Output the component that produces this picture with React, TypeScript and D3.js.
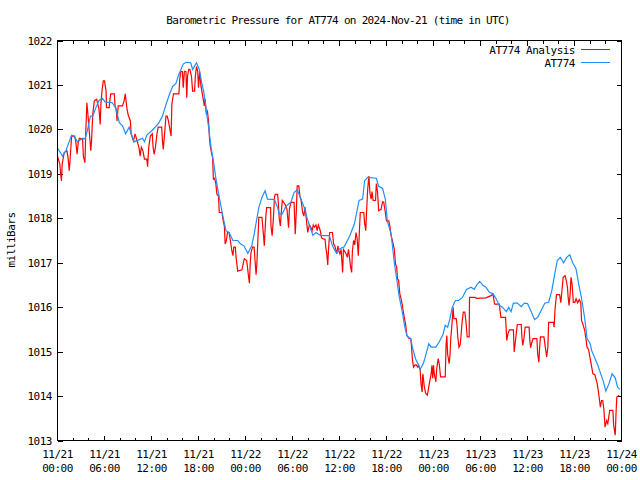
import * as d3 from 'd3';

// hours since 2024-11-21 00:00 UTC, pressure in mb
const analysis: [number, number][] = [
  [0, 1019.4], [0.3, 1019.22], [0.4, 1018.99], [0.5, 1018.84], [0.6, 1019.22], [0.85, 1019.48],
  [1.2, 1019.52], [1.35, 1019.36], [1.5, 1019.07], [1.6, 1019.3], [1.8, 1019.85], [2.2, 1019.85],
  [2.35, 1019.7], [2.5, 1019.44], [2.65, 1019.7], [2.8, 1019.8], [3.2, 1019.78], [3.3, 1019.4],
  [3.5, 1019.25], [3.6, 1019.89], [3.75, 1020.6], [3.9, 1020.3], [4.05, 1019.96], [4.25, 1019.52],
  [4.35, 1019.75], [4.5, 1020.34], [4.7, 1020.64], [5.0, 1020.68], [5.3, 1020.45], [5.45, 1020.11],
  [5.55, 1020.6], [5.7, 1020.9], [5.85, 1021.09], [6.0, 1021.09], [6.2, 1020.86], [6.25, 1020.49],
  [6.6, 1020.49], [6.7, 1020.68], [6.8, 1020.8], [7.25, 1020.8], [7.35, 1020.52], [7.5, 1020.45],
  [7.6, 1020.19], [7.75, 1020.53], [8.3, 1020.53], [8.5, 1020.64], [8.65, 1020.8], [8.85, 1020.49],
  [9.0, 1020.34], [9.3, 1020.19], [9.4, 1019.9], [9.7, 1019.74], [9.9, 1019.9], [10.1, 1019.78],
  [10.4, 1019.59], [10.55, 1019.4], [10.7, 1019.6], [10.9, 1019.52], [11.1, 1019.33], [11.4, 1019.33],
  [11.5, 1019.16], [11.65, 1019.6], [11.85, 1019.85], [12.1, 1019.9], [12.2, 1019.6], [12.35, 1019.44],
  [12.5, 1019.6], [12.7, 1019.9], [12.85, 1020.05], [13.3, 1020.05], [13.4, 1019.74], [13.5, 1019.55],
  [13.7, 1019.96], [13.85, 1020.3], [14.0, 1020.3], [14.15, 1020.2], [14.35, 1020.0], [14.5, 1019.85],
  [14.6, 1020.56], [14.8, 1020.8], [15.5, 1020.8], [15.6, 1021.12], [15.75, 1021.31], [15.95, 1021.3],
  [16.05, 1020.94], [16.2, 1021.31], [16.4, 1021.3], [16.5, 1020.71], [16.6, 1021.2], [16.75, 1021.35],
  [16.9, 1021.35], [17.1, 1021.2], [17.25, 1020.86], [17.5, 1020.86], [17.6, 1021.2], [17.75, 1021.42],
  [17.9, 1021.3], [18.0, 1020.94], [18.15, 1021.3], [18.3, 1021.0], [18.5, 1020.79], [18.6, 1020.68],
  [18.75, 1020.53], [18.85, 1020.68], [19.0, 1020.34], [19.15, 1020.4], [19.3, 1020.15], [19.4, 1019.81],
  [19.5, 1019.63], [19.7, 1019.44], [19.8, 1019.37], [19.9, 1018.88], [20.05, 1018.9], [20.2, 1018.8],
  [20.35, 1018.54], [20.55, 1018.5], [20.65, 1018.13], [21.0, 1018.13], [21.15, 1017.94], [21.3, 1017.83],
  [21.4, 1017.42], [21.55, 1017.5], [21.7, 1017.68], [21.9, 1017.68], [22.1, 1017.46], [22.25, 1017.27],
  [22.4, 1017.16], [22.5, 1017.35], [22.7, 1017.35], [22.8, 1017.12], [22.9, 1016.97], [23.0, 1016.81],
  [23.55, 1016.84], [23.7, 1016.97], [23.85, 1017.09], [24.15, 1017.05], [24.25, 1016.9], [24.4, 1016.67],
  [24.5, 1016.54], [24.6, 1016.97], [24.7, 1017.23], [24.9, 1017.35], [25.1, 1017.35], [25.2, 1017.09],
  [25.35, 1016.73], [25.45, 1016.97], [25.55, 1017.38], [25.7, 1018.02], [26.1, 1018.02], [26.3, 1017.61],
  [26.4, 1017.38], [26.6, 1018.06], [26.7, 1018.24], [27.2, 1018.24], [27.25, 1017.83], [27.4, 1017.61],
  [27.55, 1017.97], [27.7, 1018.47], [27.8, 1018.54], [28.1, 1018.54], [28.2, 1018.32], [28.3, 1018.0],
  [28.45, 1017.83], [28.6, 1018.2], [28.7, 1018.4], [29.1, 1018.3], [29.3, 1018.2], [29.5, 1017.79],
  [29.6, 1018.2], [29.8, 1018.36], [30.2, 1018.36], [30.35, 1017.64], [30.5, 1018.2], [30.6, 1018.73],
  [30.8, 1018.73], [30.95, 1018.5], [31.1, 1018.4], [31.3, 1018.13], [31.45, 1018.05], [31.6, 1018.25],
  [31.7, 1018.1], [31.85, 1017.83], [31.95, 1017.68], [32.15, 1017.85], [32.35, 1017.79], [32.5, 1017.72],
  [32.65, 1017.85], [32.8, 1017.8], [33.0, 1017.85], [33.15, 1017.72], [33.3, 1017.85], [33.55, 1017.72],
  [33.7, 1017.56], [34.0, 1017.53], [34.15, 1017.53], [34.25, 1017.35], [34.4, 1017.16], [34.5, 1016.95],
  [34.6, 1017.3], [34.75, 1017.68], [35.1, 1017.68], [35.25, 1017.42], [35.4, 1017.38], [35.55, 1017.27],
  [35.65, 1017.2], [35.8, 1017.38], [35.9, 1017.27], [36.05, 1017.2], [36.2, 1017.3], [36.4, 1016.78],
  [36.5, 1017.3], [36.8, 1017.22], [37.0, 1017.12], [37.15, 1017.3], [37.4, 1016.93], [37.55, 1016.78],
  [37.65, 1017.27], [37.8, 1017.5], [37.95, 1017.4], [38.1, 1017.68], [38.25, 1017.55], [38.4, 1017.16],
  [38.5, 1017.55], [38.65, 1018.13], [39.1, 1018.13], [39.2, 1017.9], [39.35, 1017.72], [39.45, 1018.13],
  [39.6, 1018.66], [39.75, 1018.95], [39.9, 1018.54], [40.05, 1018.43], [40.15, 1018.6], [40.3, 1018.4],
  [40.6, 1018.4], [40.7, 1018.78], [40.85, 1018.6], [41.0, 1018.17], [41.3, 1018.2], [41.5, 1018.37],
  [41.65, 1018.36], [41.85, 1018.13], [42.0, 1017.94], [42.3, 1017.94], [42.45, 1017.8], [42.6, 1017.6],
  [42.75, 1017.5], [42.9, 1017.38], [43.0, 1017.3], [43.15, 1016.97], [43.3, 1016.9], [43.4, 1016.64],
  [43.55, 1016.6], [43.7, 1016.3], [43.85, 1016.2], [44.0, 1016.07], [44.15, 1015.89], [44.3, 1015.74],
  [44.45, 1015.6], [44.6, 1015.36], [44.85, 1015.3], [45.1, 1015.29], [45.2, 1015.1], [45.3, 1014.84],
  [45.45, 1014.65], [45.65, 1014.7], [45.8, 1014.7], [46.0, 1014.65], [46.1, 1014.7], [46.3, 1014.58],
  [46.4, 1014.28], [46.55, 1014.09], [46.6, 1014.4], [46.65, 1014.5], [46.8, 1014.24], [47.0, 1014.06],
  [47.2, 1014.02], [47.3, 1014.1], [47.5, 1014.32], [47.7, 1014.5], [47.8, 1014.69], [47.9, 1014.4],
  [48.0, 1014.69], [48.1, 1014.5], [48.3, 1014.32], [48.4, 1014.6], [48.6, 1014.84], [48.75, 1014.7],
  [48.9, 1014.43], [49.5, 1014.43], [49.6, 1015.14], [49.7, 1015.36], [49.8, 1014.95], [50.0, 1014.73],
  [50.1, 1014.9], [50.2, 1015.29], [50.35, 1015.6], [50.5, 1016.0], [50.6, 1015.74], [50.9, 1015.74],
  [51.0, 1015.6], [51.1, 1015.33], [51.25, 1015.1], [51.4, 1015.15], [51.5, 1015.33], [51.65, 1015.66],
  [51.8, 1015.89], [52.0, 1015.89], [52.15, 1015.66], [52.3, 1015.33], [52.55, 1015.33], [52.6, 1016.22],
  [53.3, 1016.22], [53.5, 1016.2], [54.7, 1016.21], [55.35, 1016.26], [55.6, 1016.29], [55.8, 1016.07],
  [56.4, 1016.07], [56.6, 1015.77], [57.2, 1015.77], [57.35, 1015.25], [57.5, 1015.4], [57.7, 1015.49],
  [58.2, 1015.49], [58.3, 1014.99], [58.5, 1015.3], [58.7, 1015.61], [59.2, 1015.61], [59.3, 1015.3],
  [59.4, 1015.14], [59.55, 1015.3], [59.7, 1015.55], [60.2, 1015.55], [60.3, 1015.25], [60.4, 1015.09],
  [60.55, 1015.2], [60.7, 1015.29], [61.2, 1015.29], [61.3, 1014.95], [61.45, 1014.76], [61.55, 1015.1],
  [61.65, 1015.33], [62.1, 1015.33], [62.3, 1015.06], [62.45, 1014.88], [62.6, 1015.1], [62.7, 1015.66],
  [63.3, 1015.66], [63.4, 1015.55], [63.5, 1015.92], [63.7, 1016.28], [64.1, 1016.28], [64.25, 1016.1],
  [64.4, 1016.37], [64.55, 1016.67], [64.8, 1016.71], [64.95, 1016.6], [65.1, 1016.45], [65.2, 1016.2],
  [65.3, 1016.04], [65.45, 1016.3], [65.55, 1016.67], [65.7, 1016.5], [65.85, 1016.11], [66.05, 1016.11],
  [66.2, 1016.19], [66.4, 1016.1], [66.6, 1016.17], [66.8, 1016.1], [66.9, 1015.7], [67.1, 1015.6],
  [67.3, 1015.48], [67.45, 1015.3], [67.6, 1015.1], [67.8, 1015.05], [68.0, 1014.84], [68.2, 1014.65],
  [68.35, 1014.5], [68.6, 1014.48], [68.9, 1014.28], [69.05, 1014.1], [69.2, 1013.9], [69.3, 1013.75],
  [69.45, 1013.9], [69.6, 1013.9], [69.75, 1013.7], [69.9, 1013.3], [70.1, 1013.45], [70.25, 1013.38],
  [70.5, 1013.68], [70.9, 1013.68], [71.0, 1013.34], [71.2, 1013.12], [71.3, 1013.6], [71.4, 1013.98],
  [71.7, 1014.02],
];

const station: [number, number][] = [
  [0, 1019.58], [0.64, 1019.4], [1.07, 1019.52], [1.8, 1019.87], [2.1, 1019.85], [2.55, 1019.72],
  [3.2, 1019.8], [3.5, 1019.78], [3.8, 1019.96], [4.2, 1020.3], [4.5, 1020.3], [4.9, 1020.49],
  [5.3, 1020.65], [5.75, 1020.7], [6.05, 1020.62], [7.0, 1020.6], [7.4, 1020.49], [7.9, 1020.15],
  [8.3, 1020.08], [8.7, 1019.9], [9.15, 1020.05], [9.4, 1019.9], [9.8, 1019.72], [10.85, 1019.8],
  [11.1, 1019.72], [11.4, 1019.87], [12.1, 1019.98], [12.8, 1020.11], [13.0, 1020.17], [13.4, 1020.3],
  [13.85, 1020.56], [14.3, 1020.79], [14.7, 1020.97], [15.1, 1021.03], [15.5, 1021.24], [16.05, 1021.47],
  [16.4, 1021.51], [17.0, 1021.5], [17.25, 1021.35], [17.75, 1021.5], [18.1, 1021.35], [18.45, 1021.01],
  [18.7, 1020.82], [19.0, 1020.41], [19.3, 1020.04], [19.6, 1019.59], [19.9, 1019.29], [20.2, 1018.92],
  [20.65, 1018.47], [21.1, 1018.06], [21.5, 1017.72], [21.9, 1017.68], [22.4, 1017.5], [23.0, 1017.5],
  [23.4, 1017.42], [23.8, 1017.38], [24.3, 1017.21], [24.8, 1017.38], [25.1, 1017.64], [25.4, 1017.94],
  [25.7, 1018.24], [26.1, 1018.47], [26.5, 1018.62], [26.8, 1018.43], [27.7, 1018.42], [28.1, 1018.24],
  [28.3, 1018.1], [28.7, 1018.1], [29.2, 1018.28], [29.8, 1018.36], [30.2, 1018.58], [30.6, 1018.64],
  [31.1, 1018.43], [31.5, 1018.24], [31.9, 1017.98], [32.4, 1017.72], [32.6, 1017.62], [33.0, 1017.68],
  [33.6, 1017.61], [34.7, 1017.61], [35.1, 1017.38], [35.6, 1017.22], [36.0, 1017.31], [36.6, 1017.36],
  [37.3, 1017.6], [37.9, 1017.87], [38.5, 1018.4], [38.95, 1018.43], [39.2, 1018.84], [39.6, 1018.92],
  [40.7, 1018.9], [41.0, 1018.72], [41.5, 1018.67], [41.85, 1018.43], [42.0, 1018.15], [42.1, 1017.94],
  [42.6, 1017.64], [42.8, 1017.31], [43.0, 1017.0], [43.3, 1016.64], [43.6, 1016.26], [43.85, 1016.04],
  [44.1, 1015.81], [44.3, 1015.59], [44.6, 1015.36], [45.1, 1015.29], [45.3, 1015.1], [45.7, 1014.84],
  [46.0, 1014.73], [46.3, 1014.6], [46.7, 1014.73], [47.0, 1014.91], [47.4, 1015.18], [47.7, 1015.1],
  [48.3, 1015.1], [48.7, 1015.21], [49.2, 1015.38], [49.5, 1015.59], [49.8, 1015.55], [50.1, 1015.74],
  [50.4, 1016.0], [50.8, 1016.15], [51.2, 1016.15], [51.7, 1016.22], [52.2, 1016.4], [52.8, 1016.45],
  [53.2, 1016.4], [53.6, 1016.52], [53.9, 1016.58], [54.3, 1016.49], [54.7, 1016.45], [55.1, 1016.34],
  [55.6, 1016.3], [56.0, 1016.19], [56.4, 1016.04], [56.8, 1016.0], [57.3, 1015.9], [57.6, 1016.0],
  [57.9, 1015.9], [58.2, 1016.09], [58.7, 1016.09], [59.2, 1016.01], [59.6, 1016.09], [60.0, 1016.08],
  [60.5, 1015.89], [60.9, 1015.72], [61.3, 1015.77], [61.7, 1015.91], [62.2, 1016.09], [62.7, 1016.11],
  [63.1, 1016.37], [63.4, 1016.67], [63.8, 1017.05], [64.2, 1017.12], [64.6, 1017.0], [65.0, 1017.12],
  [65.4, 1017.18], [65.8, 1016.99], [66.2, 1016.86], [66.5, 1016.55], [66.9, 1016.2], [67.3, 1015.75],
  [67.6, 1015.3], [68.0, 1015.18], [68.2, 1015.02], [68.6, 1014.85], [69.0, 1014.68], [69.4, 1014.47],
  [69.7, 1014.32], [70.0, 1014.11], [70.4, 1014.28], [70.8, 1014.5], [71.2, 1014.41], [71.5, 1014.2],
  [71.8, 1014.15],
];

const yTicks = [1013, 1014, 1015, 1016, 1017, 1018, 1019, 1020, 1021, 1022];
const seriesNames = ['AT774 Analysis', 'AT774'];
const seriesColors = ['#ff0000', '#1e90ff'];

const T0 = Date.UTC(2024, 10, 21);
const HOUR = 3600 * 1000;
const FONT = '"DejaVu Sans Mono", "Liberation Mono", monospace';

export default function App() {
  const left = 57.5, right = 621.5, top = 40.5, bottom = 440.5;

  const x = d3.scaleUtc()
    .domain([new Date(T0), new Date(T0 + 72 * HOUR)])
    .range([left, right]);
  const y = d3.scaleLinear().domain([1013, 1022]).range([bottom, top]);

  const line = d3.line<[number, number]>()
    .x(d => x(new Date(T0 + d[0] * HOUR)))
    .y(d => y(d[1]));

  const major = x.ticks(d3.utcHour.every(6)!);
  const majorSet = new Set(major.map(d => +d));
  const minor = x.ticks(d3.utcHour.every(2)!).filter(d => !majorSet.has(+d));
  const fmtDay = d3.utcFormat('%m/%d');
  const fmtTime = d3.utcFormat('%H:%M');

  const txt = { fontFamily: FONT, fontSize: 11, letterSpacing: '-0.5px', fill: '#000' };

  return (
    <svg width={640} height={480} style={{ position: 'absolute', left: 0, top: 0, background: '#fff' }}>
      <rect x={0} y={0} width={640} height={480} fill="#fff" />

      <text x={338} y={24} textAnchor="middle" {...txt} letterSpacing="-0.7px">
        Barometric Pressure for AT774 on 2024-Nov-21 (time in UTC)
      </text>

      <text transform="translate(15,240) rotate(-90)" textAnchor="middle" {...txt}>milliBars</text>

      <g shapeRendering="crispEdges" stroke="#000" strokeWidth={1}>
        {yTicks.map(t => (
          <g key={t}>
            <line x1={left} x2={left + 5} y1={Math.round(y(t)) + 0.5} y2={Math.round(y(t)) + 0.5} />
            <line x1={right - 5} x2={right} y1={Math.round(y(t)) + 0.5} y2={Math.round(y(t)) + 0.5} />
          </g>
        ))}
        {major.map(d => (
          <g key={+d}>
            <line x1={x(d)} x2={x(d)} y1={bottom} y2={bottom - 5} />
            <line x1={x(d)} x2={x(d)} y1={top} y2={top + 5} />
          </g>
        ))}
        {minor.map(d => (
          <g key={+d}>
            <line x1={x(d)} x2={x(d)} y1={bottom} y2={bottom - 3} />
            <line x1={x(d)} x2={x(d)} y1={top} y2={top + 3} />
          </g>
        ))}
      </g>

      {yTicks.map(t => (
        <text key={t} x={52} y={y(t) + 4} textAnchor="end" {...txt}>{t}</text>
      ))}
      {major.map(d => (
        <g key={+d}>
          <text x={x(d)} y={458} textAnchor="middle" {...txt}>{fmtDay(d)}</text>
          <text x={x(d)} y={471.5} textAnchor="middle" {...txt}>{fmtTime(d)}</text>
        </g>
      ))}

      <path d={line(analysis) ?? ''} fill="none" stroke={seriesColors[0]} strokeWidth={1.2}
        strokeLinejoin="miter" />
      <path d={line(station) ?? ''} fill="none" stroke={seriesColors[1]} strokeWidth={1.2}
        strokeLinejoin="miter" />

      {seriesNames.map((name, i) => (
        <g key={name}>
          <text x={575} y={54 + i * 13} textAnchor="end" {...txt}>{name}</text>
          <line x1={581} x2={610} y1={49.5 + i * 13} y2={49.5 + i * 13}
            stroke={seriesColors[i]} strokeWidth={1} shapeRendering="crispEdges" />
        </g>
      ))}

      <rect x={left} y={top} width={right - left} height={bottom - top}
        fill="none" stroke="#000" strokeWidth={1} shapeRendering="crispEdges" />
    </svg>
  );
}
